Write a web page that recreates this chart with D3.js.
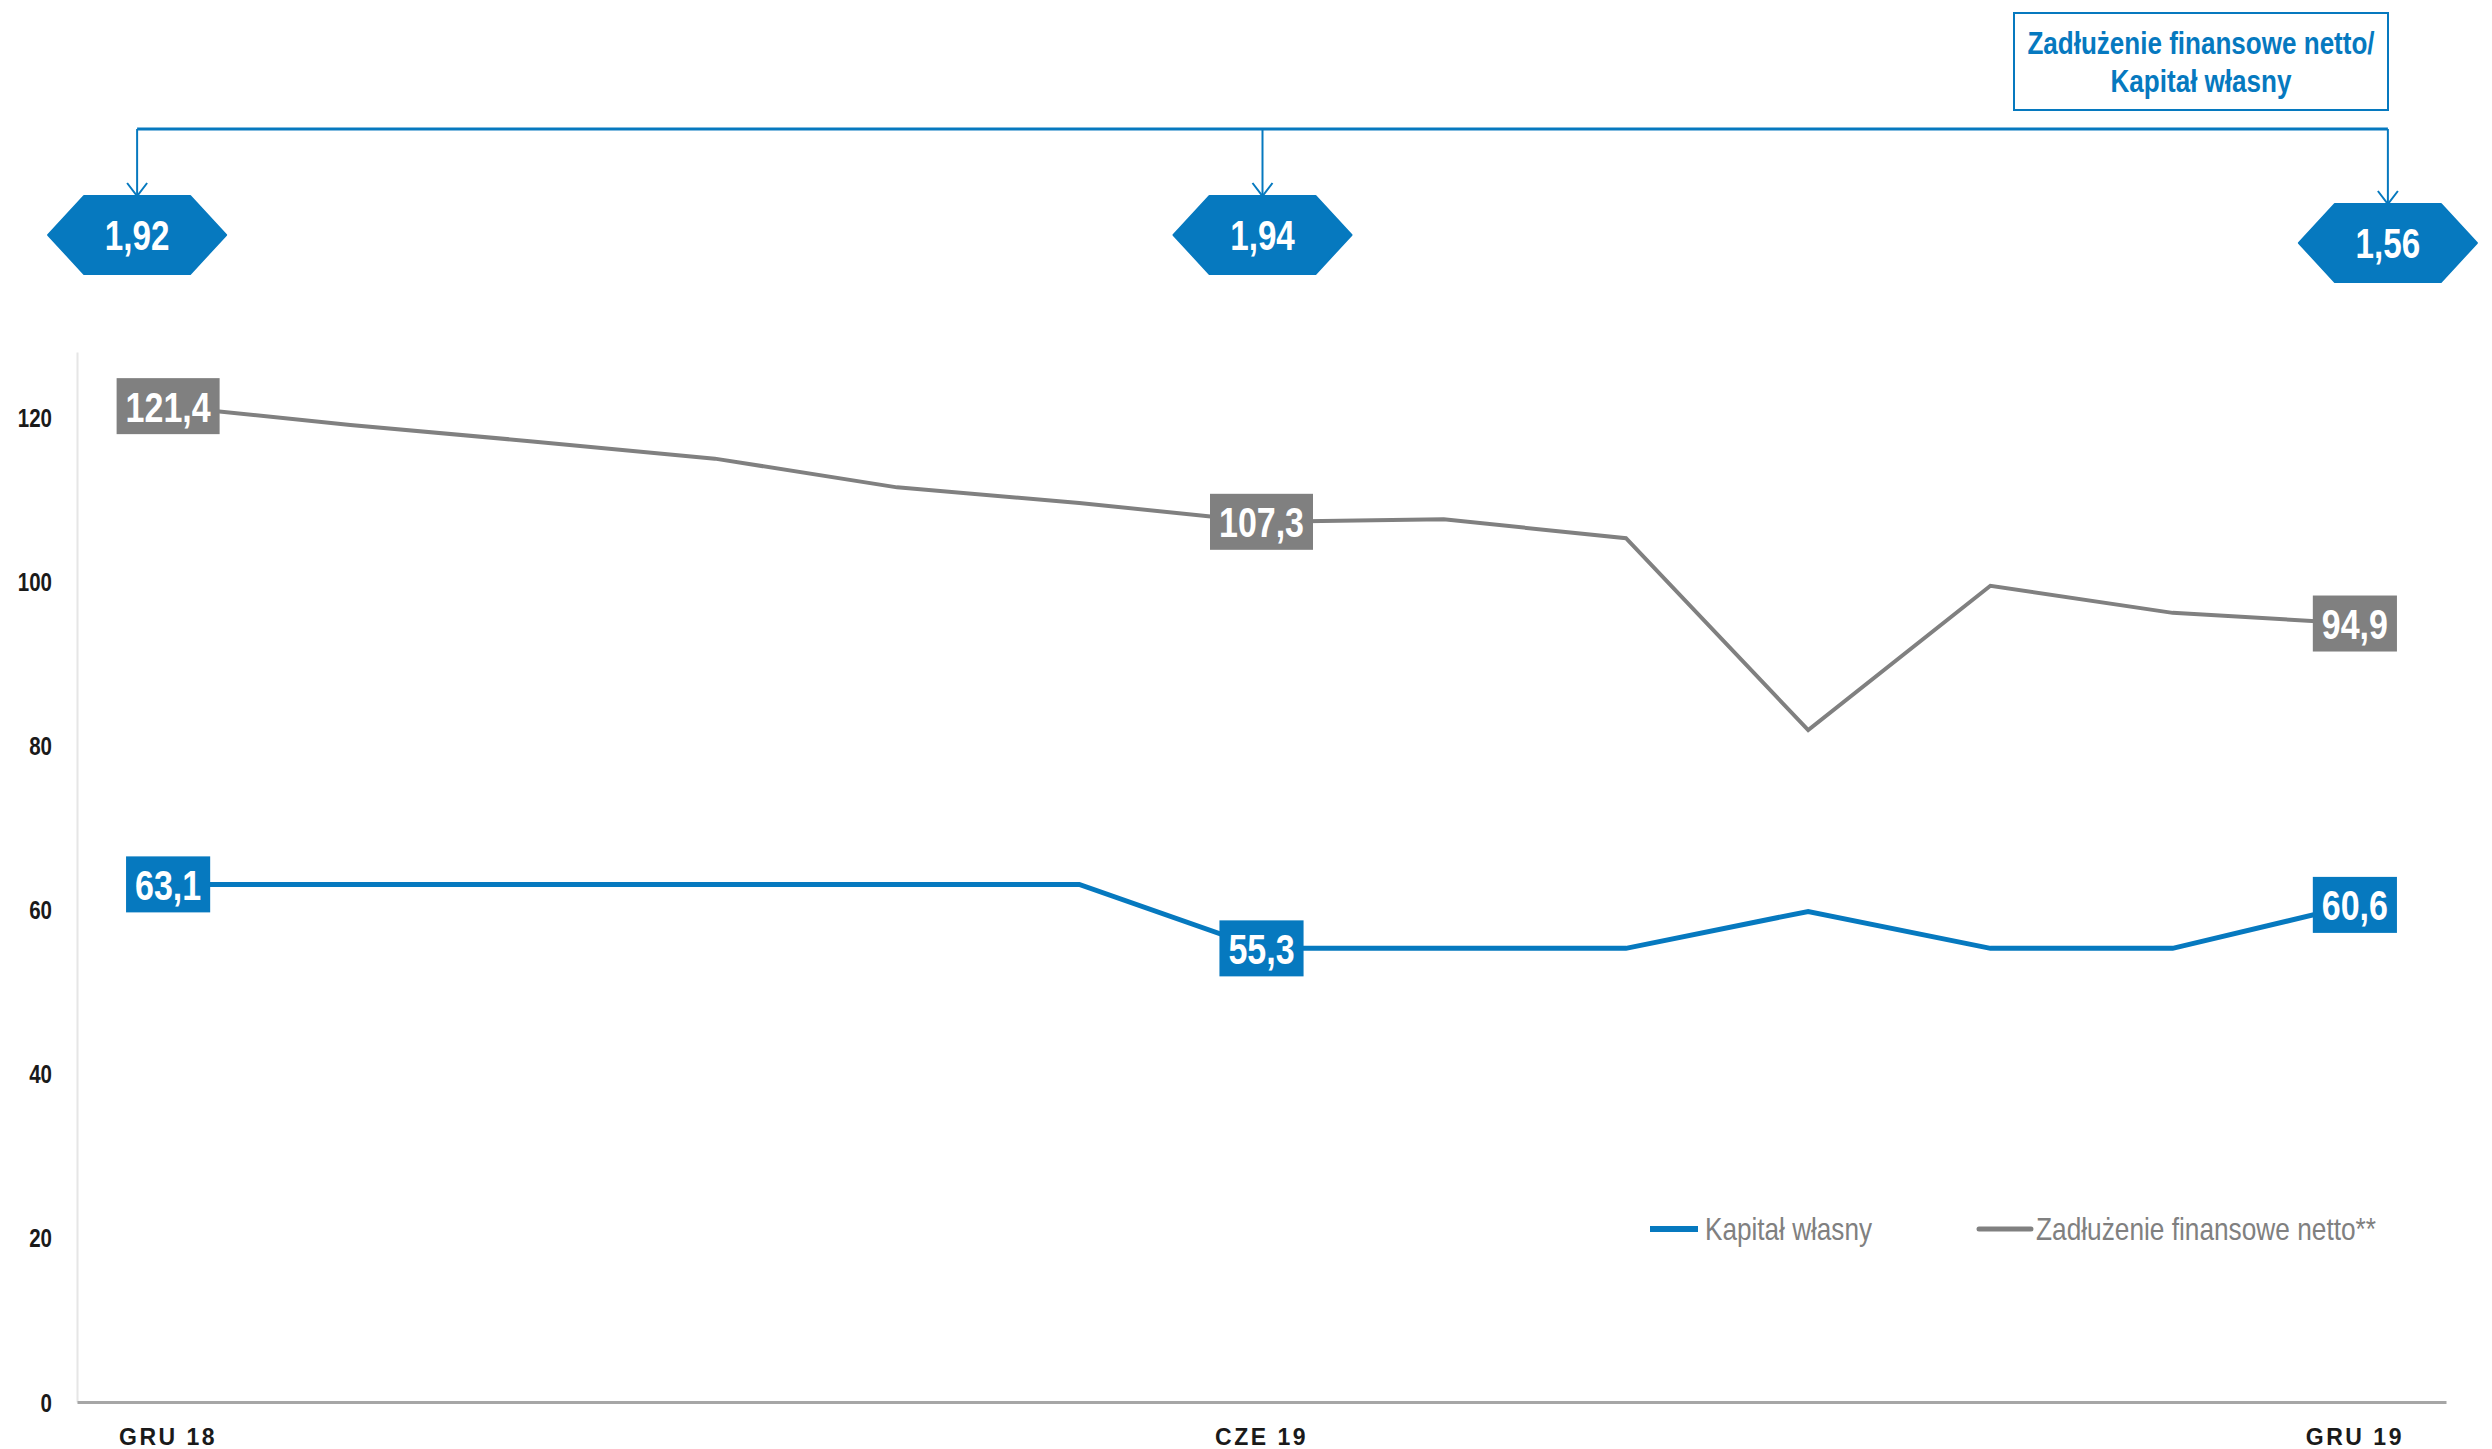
<!DOCTYPE html>
<html>
<head>
<meta charset="utf-8">
<script src="https://cdn.jsdelivr.net/npm/d3@7"></script>
<style>
  body { margin: 0; background: #fff; }
  svg { display: block; }
  .narrow { font-family: "Liberation Sans Narrow", "Arial Narrow", "Liberation Sans", Arial, sans-serif; }
</style>
</head>
<body>
<svg id="chart" width="2492" height="1449"></svg>
<script>
// months from GRU 18 to GRU 19
const months = ["GRU 18", "STY 19", "LUT 19", "MAR 19", "KWI 19", "MAJ 19", "CZE 19",
                "LIP 19", "SIE 19", "WRZ 19", "PAŹ 19", "LIS 19", "GRU 19"];
const tickMonths = ["GRU 18", "CZE 19", "GRU 19"];
const kapital = [63.1, 63.1, 63.1, 63.1, 63.1, 63.1, 55.3, 55.3, 55.3, 59.8, 55.3, 55.3, 60.6];
const zadluzenie = [121.4, 119.1, 117.1, 115.0, 111.5, 109.6, 107.3, 107.6, 105.3, 81.9, 99.5, 96.2, 94.9];
const labelled = [0, 6, 12];
const ratios = [1.92, 1.94, 1.56];
const yTicks = [0, 20, 40, 60, 80, 100, 120];
const seriesNames = ["Kapitał własny", "Zadłużenie finansowe netto**"];
const ratioTitle = ["Zadłużenie finansowe netto/", "Kapitał własny"];

const blue = "#0679bf";
const grey = "#808080";
const fmt = v => d3.format(".1f")(v).replace(".", ",");
const fmt2 = v => d3.format(".2f")(v).replace(".", ",");

// narrow font is not installed, squeeze the regular one instead
function condense(sel, k) {
  sel.each(function () {
    const w = this.getComputedTextLength();
    d3.select(this).attr("textLength", w * k).attr("lengthAdjust", "spacingAndGlyphs");
  });
}

const svg = d3.select("#chart");

const x = d3.scaleBand().domain(months).range([77, 2446]);
const px = m => x(m) + x.bandwidth() / 2;
const y = d3.scaleLinear().domain([0, 128]).range([1402, 352]);

// y axis
const yAxis = svg.append("g")
    .attr("transform", "translate(77,0)")
    .call(d3.axisLeft(y).tickValues(yTicks).tickSize(0).tickPadding(25).tickFormat(d3.format("d")));
yAxis.select(".domain").attr("stroke", "#e6e6e6").attr("stroke-width", 2);
yAxis.selectAll("text")
    .attr("class", "narrow")
    .attr("font-size", 25)
    .attr("font-weight", "bold")
    .attr("fill", "#1a1a1a")
    .attr("dy", "0.36em")
    .call(condense, 0.82);

// x axis
const xAxis = svg.append("g")
    .attr("transform", "translate(0,1402)")
    .call(d3.axisBottom(x).tickValues(tickMonths).tickSize(0).tickPadding(0));
xAxis.select(".domain").attr("stroke", "#a6a6a6").attr("stroke-width", 3);
xAxis.selectAll("text")
    .attr("font-family", "Liberation Sans, Arial, sans-serif")
    .attr("font-size", 23)
    .attr("font-weight", "bold")
    .attr("letter-spacing", 2.5)
    .attr("fill", "#1a1a1a")
    .attr("y", 43)
    .attr("dy", 0);

// lines
const line = d3.line().x((d, i) => px(months[i])).y(d => y(d));
svg.append("path").datum(zadluzenie)
    .attr("fill", "none").attr("stroke", grey).attr("stroke-width", 4)
    .attr("d", line);
svg.append("path").datum(kapital)
    .attr("fill", "none").attr("stroke", blue).attr("stroke-width", 5)
    .attr("d", line);

// value labels
function addLabels(values, color) {
  const g = svg.append("g").selectAll("g")
      .data(labelled)
      .join("g")
      .attr("transform", i => `translate(${px(months[i])},${y(values[i])})`);
  g.append("rect").attr("fill", color);
  const txt = g.append("text")
      .attr("class", "narrow")
      .attr("text-anchor", "middle")
      .attr("dy", "0.36em")
      .attr("font-size", 43)
      .attr("font-weight", "bold")
      .attr("fill", "#fff")
      .text(i => fmt(values[i]))
      .call(condense, 0.79);
  txt.each(function () {
    const w = +d3.select(this).attr("textLength") + 18;
    d3.select(this.parentNode).select("rect")
      .attr("x", -w / 2).attr("y", -28).attr("width", w).attr("height", 56);
  });
}
addLabels(zadluzenie, grey);
addLabels(kapital, blue);

// ratio callouts
const hexOffset = [-31, 1, 33];
const hexY = [235, 235, 243];
const bracketY = 129;
const hx = i => px(months[labelled[i]]) + hexOffset[i];

svg.append("line")
    .attr("x1", hx(0)).attr("x2", hx(2))
    .attr("y1", bracketY).attr("y2", bracketY)
    .attr("stroke", blue).attr("stroke-width", 3);

const hex = svg.append("g").selectAll("g")
    .data(ratios)
    .join("g")
    .attr("transform", (d, i) => `translate(${hx(i)},${hexY[i]})`);
hex.append("line")
    .attr("x1", 0).attr("x2", 0)
    .attr("y1", (d, i) => bracketY - hexY[i]).attr("y2", -39)
    .attr("stroke", blue).attr("stroke-width", 2);
hex.append("path")
    .attr("d", "M-10,-52L0,-39L10,-52")
    .attr("fill", "none").attr("stroke", blue).attr("stroke-width", 2);
hex.append("path")
    .attr("d", "M-89,0L-53,-39L53,-39L89,0L53,39L-53,39Z")
    .attr("fill", blue).attr("stroke", blue).attr("stroke-linejoin", "round").attr("stroke-width", 2);
hex.append("text")
    .attr("class", "narrow")
    .attr("text-anchor", "middle")
    .attr("dy", "0.36em")
    .attr("font-size", 42)
    .attr("font-weight", "bold")
    .attr("fill", "#fff")
    .text(d => fmt2(d))
    .call(condense, 0.79);

// title box
const tb = svg.append("g");
tb.append("rect")
    .attr("x", 2014).attr("y", 13).attr("width", 374).attr("height", 97)
    .attr("fill", "#fff").attr("stroke", blue).attr("stroke-width", 2);
tb.selectAll("text")
    .data(ratioTitle)
    .join("text")
    .attr("class", "narrow")
    .attr("x", 2201)
    .attr("y", (d, i) => 54 + i * 38)
    .attr("text-anchor", "middle")
    .attr("font-size", 31)
    .attr("font-weight", "bold")
    .attr("fill", blue)
    .text(d => d)
    .call(condense, 0.84);

// legend
const legendX = [1650, 1979];
const legendLen = [167, 340];
const legendColors = [blue, grey];
const lg = svg.append("g").selectAll("g")
    .data(seriesNames)
    .join("g")
    .attr("transform", (d, i) => `translate(${legendX[i]},1229)`);
lg.append("line")
    .attr("x1", 0).attr("x2", (d, i) => i ? 52 : 48)
    .attr("stroke", (d, i) => legendColors[i])
    .attr("stroke-width", (d, i) => i ? 5 : 6)
    .attr("stroke-linecap", (d, i) => i ? "round" : "butt");
lg.append("text")
    .attr("class", "narrow")
    .attr("x", (d, i) => i ? 57 : 55)
    .attr("y", 11)
    .attr("font-size", 32)
    .attr("fill", grey)
    .attr("textLength", (d, i) => legendLen[i])
    .attr("lengthAdjust", "spacingAndGlyphs")
    .text(d => d);
</script>
</body>
</html>
